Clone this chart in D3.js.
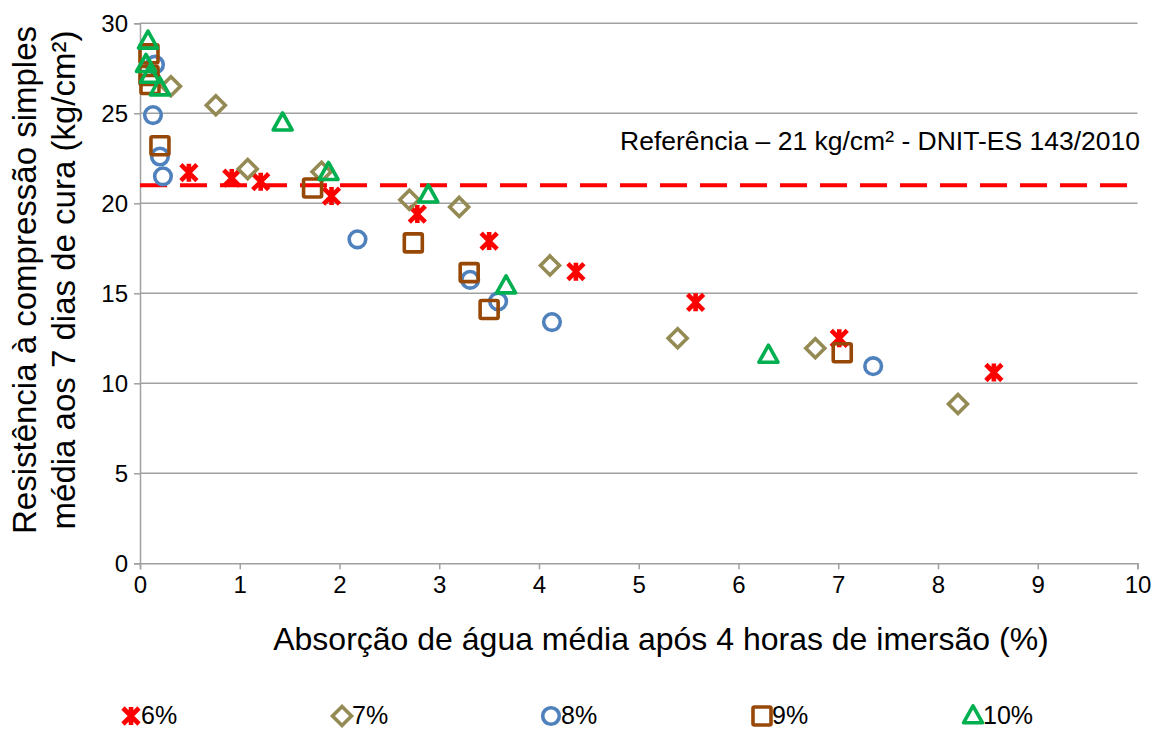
<!DOCTYPE html>
<html>
<head>
<meta charset="utf-8">
<script src="https://cdn.jsdelivr.net/npm/d3@7"></script>
<style>
  body { margin: 0; background: #fff; }
  svg text { font-family: "Liberation Sans", Arial, sans-serif; fill: #000; }
</style>
</head>
<body>
<svg id="chart" width="1162" height="729"></svg>
<script>
// Absorção (%) x resistência (kg/cm²) por teor
const s6  = [[0.49,21.7],[0.92,21.4],[1.21,21.2],[1.92,20.4],[2.78,19.4],[3.50,17.9],[4.37,16.2],[5.57,14.5],[7.01,12.5],[8.56,10.6]];
const s7  = [[0.31,26.5],[0.76,25.45],[1.08,21.9],[1.82,21.75],[2.70,20.2],[3.20,19.8],[4.11,16.55],[5.39,12.5],[6.77,11.95],[8.20,8.85]];
const s8  = [[0.15,27.7],[0.13,24.9],[0.20,22.6],[0.23,21.5],[2.18,18.0],[3.31,15.75],[3.59,14.55],[4.13,13.4],[7.35,10.95]];
const s9  = [[0.09,28.3],[0.09,27.1],[0.10,26.6],[0.20,23.2],[1.73,20.85],[2.74,17.8],[3.30,16.15],[3.50,14.1],[7.04,11.7]];
const s10 = [[0.08,29.0],[0.06,27.7],[0.10,27.1],[0.20,26.4],[1.43,24.45],[1.89,21.7],[2.89,20.45],[3.67,15.4],[6.30,11.55]];

const seriesNames = ["6%","7%","8%","9%","10%"];
const seriesData = [s6, s7, s8, s9, s10];
const seriesColors = ["#FF0000","#948A54","#4F81BD","#974806","#00B050"];
const seriesShapes = ["star","diamond","circle","square","triangle"];

const xTicks = [0,1,2,3,4,5,6,7,8,9,10];
const yTicks = [0,5,10,15,20,25,30];
const refValue = 21;
const refLabel = "Referência – 21 kg/cm² - DNIT-ES 143/2010";
const xTitle = "Absorção de água média após 4 horas de imersão (%)";
const yTitle = ["Resistência à compressão simples", "média aos 7 dias de cura (kg/cm²)"];

const svg = d3.select("#chart");
const plotLeft = 140, plotRight = 1137.5, plotTop = 23.3, plotBottom = 563.3;
const x = d3.scaleLinear().domain([0,10]).range([plotLeft, plotRight]);
const y = d3.scaleLinear().domain([0,30]).range([plotBottom, plotTop]);
const grid = "#A0A0A0";

// horizontal gridlines
svg.append("g").selectAll("line").data(yTicks.filter(d => d > 0)).join("line")
  .attr("x1", plotLeft).attr("x2", plotRight)
  .attr("y1", d => y(d)).attr("y2", d => y(d))
  .attr("stroke", grid).attr("stroke-width", 1.5);

// axes
const xAxis = svg.append("g").attr("transform", `translate(0,${plotBottom})`)
  .call(d3.axisBottom(x).tickValues(xTicks).tickSize(6).tickPadding(6).tickFormat(d3.format("d")));
const yAxis = svg.append("g").attr("transform", `translate(${plotLeft},0)`)
  .call(d3.axisLeft(y).tickValues(yTicks).tickSize(6).tickPadding(6).tickFormat(d3.format("d")));
[xAxis, yAxis].forEach(a => {
  a.select(".domain").attr("stroke", grid).attr("stroke-width", 1.5);
  a.selectAll(".tick line").attr("stroke", grid).attr("stroke-width", 1.5);
  a.selectAll(".tick text").attr("font-size", 24).attr("fill", "#000")
    .attr("font-family", "Liberation Sans, Arial, sans-serif");
});
yAxis.selectAll(".tick text").attr("dy", "0.36em");
xAxis.selectAll(".tick text").attr("y", 12).attr("dy", "0.72em");

// reference line
svg.append("line")
  .attr("x1", x(0)).attr("x2", x(10))
  .attr("y1", y(refValue)).attr("y2", y(refValue))
  .attr("stroke", "#FF0000").attr("stroke-width", 4)
  .attr("stroke-dasharray", "27 13");
svg.append("text").attr("x", 1140).attr("y", 150).attr("text-anchor", "end")
  .attr("font-size", 26.5).text(refLabel);

// marker drawing
function marker(g, shape, color, cx, cy) {
  const sw = 3.6;
  if (shape === "circle") {
    g.append("circle").attr("cx", cx).attr("cy", cy).attr("r", 8.3)
      .attr("fill", "none").attr("stroke", color).attr("stroke-width", sw);
  } else if (shape === "square") {
    g.append("rect").attr("x", cx - 9).attr("y", cy - 9).attr("width", 18).attr("height", 18)
      .attr("fill", "none").attr("stroke", color).attr("stroke-width", sw).attr("rx", 1.5);
  } else if (shape === "diamond") {
    const r = 9.5;
    g.append("path").attr("d", `M${cx},${cy-r}L${cx+r},${cy}L${cx},${cy+r}L${cx-r},${cy}Z`)
      .attr("fill", "none").attr("stroke", color).attr("stroke-width", sw);
  } else if (shape === "triangle") {
    const h = 17, w = 19;
    g.append("path").attr("d", `M${cx},${cy-h*0.6}L${cx+w/2},${cy+h*0.4}L${cx-w/2},${cy+h*0.4}Z`)
      .attr("fill", "none").attr("stroke", color).attr("stroke-width", sw).attr("stroke-linejoin", "round");
  } else if (shape === "star") {
    const r = 8;
    g.append("path").attr("d", `M${cx-r},${cy-r}L${cx+r},${cy+r}M${cx+r},${cy-r}L${cx-r},${cy+r}M${cx},${cy-r-1}L${cx},${cy+r+1}`)
      .attr("stroke", color).attr("stroke-width", 4.6);
  }
}

const plot = svg.append("g");
seriesData.forEach((data, i) => {
  const g = plot.append("g");
  data.forEach(d => marker(g, seriesShapes[i], seriesColors[i], x(d[0]), y(d[1])));
});

// axis titles
svg.append("text").attr("x", 661).attr("y", 650).attr("text-anchor", "middle")
  .attr("font-size", 32).text(xTitle);
const yt = svg.append("text").attr("transform", "translate(0,280) rotate(-90)")
  .attr("text-anchor", "middle").attr("font-size", 33);
yt.append("tspan").attr("x", 0).attr("y", 36).text(yTitle[0]);
yt.append("tspan").attr("x", 0).attr("y", 75).text(yTitle[1]);

// legend
const legendX = [131, 342, 551, 762, 973];
const lg = svg.append("g");
seriesNames.forEach((name, i) => {
  marker(lg, seriesShapes[i], seriesColors[i], legendX[i], 716);
  lg.append("text").attr("x", legendX[i] + 10).attr("y", 723.5).attr("font-size", 25).text(name);
});
</script>
</body>
</html>
